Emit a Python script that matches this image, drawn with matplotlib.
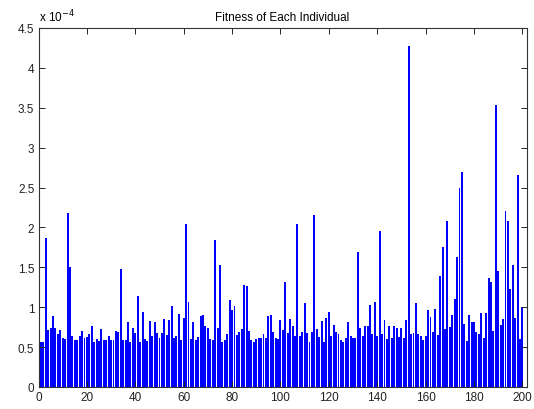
import numpy as np
import matplotlib
matplotlib.use('Agg')
import matplotlib.pyplot as plt
from matplotlib.ticker import FuncFormatter

# fitness of each individual, in units of 1e-4
individual = np.arange(1, 201)
fitness_e4 = [
    0.57, 0.57, 1.87, 0.72, 0.74, 0.89, 0.74, 0.67, 0.72, 0.62,
    0.60, 2.18, 1.50, 0.64, 0.59, 0.59, 0.64, 0.70, 0.62, 0.63,
    0.66, 0.76, 0.57, 0.60, 0.58, 0.73, 0.59, 0.59, 0.64, 0.59,
    0.59, 0.70, 0.69, 1.48, 0.59, 0.59, 0.81, 0.57, 0.74, 0.68,
    1.14, 0.57, 0.94, 0.60, 0.58, 0.83, 0.64, 0.81, 0.68, 0.61,
    0.68, 0.85, 0.65, 0.84, 1.02, 0.61, 0.64, 0.92, 0.59, 0.86,
    2.04, 1.06, 0.60, 0.81, 0.59, 0.63, 0.89, 0.90, 0.76, 0.74,
    0.60, 0.59, 1.84, 0.74, 1.53, 0.57, 0.59, 0.67, 1.09, 0.97,
    1.01, 0.65, 0.69, 0.73, 1.28, 1.26, 0.70, 0.59, 0.57, 0.60,
    0.62, 0.61, 0.67, 0.61, 0.89, 0.90, 0.69, 0.61, 0.60, 0.84,
    0.72, 1.31, 0.68, 0.85, 0.76, 0.64, 2.04, 0.64, 0.69, 1.05,
    0.68, 0.56, 0.69, 2.16, 0.73, 0.63, 0.83, 0.57, 0.86, 0.94,
    0.64, 0.78, 0.69, 0.67, 0.59, 0.57, 0.61, 0.81, 0.64, 0.62,
    0.61, 1.69, 0.74, 0.64, 0.76, 0.77, 1.03, 0.67, 1.06, 0.64,
    1.96, 0.67, 0.84, 0.60, 0.76, 0.61, 0.76, 0.74, 0.63, 0.74,
    0.62, 0.84, 4.27, 0.67, 0.68, 1.05, 0.67, 0.64, 0.59, 0.64,
    0.96, 0.88, 0.69, 0.98, 0.65, 1.39, 1.76, 0.73, 2.08, 0.75,
    0.90, 1.10, 1.63, 2.49, 2.69, 0.79, 0.58, 0.90, 0.82, 0.82,
    0.69, 0.66, 0.93, 0.61, 0.93, 1.37, 1.31, 0.70, 3.54, 1.46,
    0.78, 0.85, 2.20, 2.08, 1.23, 1.53, 0.86, 2.66, 0.60, 1.00,
]
xticks = np.arange(0, 201, 20)
yticks = np.arange(0, 4.51, 0.5)

plt.rcParams['font.family'] = ['Liberation Sans', 'DejaVu Sans']

fig = plt.figure(figsize=(5.34, 4.10), dpi=100)
ax = fig.add_axes([0.0721, 0.0537, 0.9139, 0.8756])

ax.bar(individual, fitness_e4, width=0.8, color=(0, 0, 1), edgecolor='none')

ax.set_xlim(0, 201.7)
ax.set_ylim(0, 4.5)
ax.set_xticks(xticks)
ax.set_yticks(yticks)
ax.yaxis.set_major_formatter(FuncFormatter(lambda v, p: ('%g' % v)))
ax.tick_params(direction='in', length=4, width=0.7, top=True, right=True,
               labelsize=8.5, colors='#222222', pad=3)
for s in ax.spines.values():
    s.set_linewidth(0.8)
    s.set_color('#333333')

ax.set_title('Fitness of Each Individual', fontsize=8.5, pad=6)
ax.text(0.0, 1.01, r'x 10$^{-4}$', transform=ax.transAxes, fontsize=8.5,
        ha='left', va='bottom')

fig.savefig('out.png', dpi=100)
